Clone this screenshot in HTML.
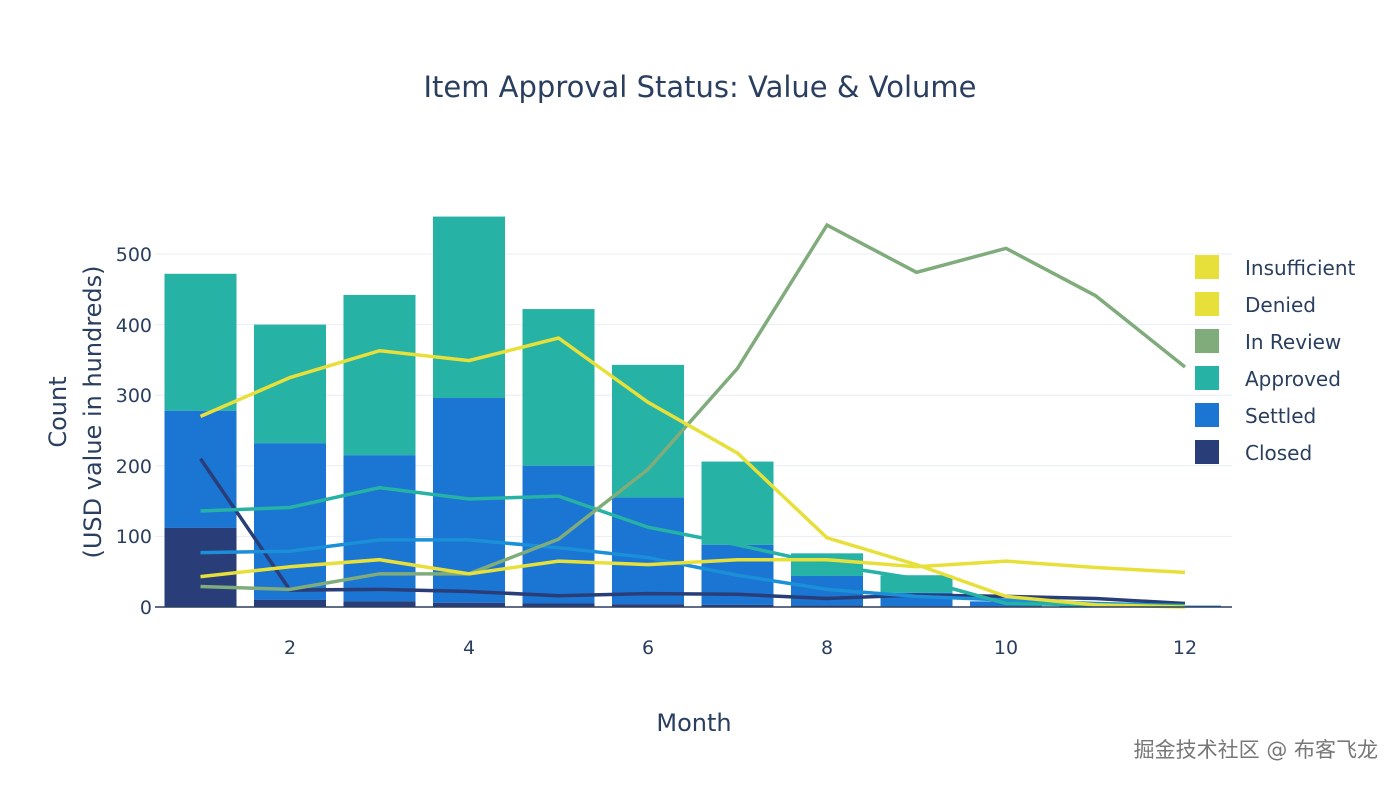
<!DOCTYPE html>
<html><head><meta charset="utf-8"><style>
body{margin:0;background:#fff;width:1400px;height:786px;overflow:hidden;font-family:"DejaVu Sans","Noto Sans CJK SC",sans-serif;}
</style></head><body>
<svg width="1400" height="786" xmlns="http://www.w3.org/2000/svg" font-family="DejaVu Sans, Noto Sans CJK SC, sans-serif">
<text x="700" y="97" text-anchor="middle" font-size="29" fill="#2a3f5f">Item Approval Status: Value &amp; Volume</text>
<g stroke="#e8eef4" stroke-width="1">
<line x1="155" x2="1232" y1="536.4" y2="536.4"/><line x1="155" x2="1232" y1="465.8" y2="465.8"/>
<line x1="155" x2="1232" y1="395.2" y2="395.2"/><line x1="155" x2="1232" y1="324.6" y2="324.6"/>
<line x1="155" x2="1232" y1="254" y2="254"/>
</g>
<g font-size="19" fill="#2a3f5f" text-anchor="end">
<text x="152" y="614">0</text><text x="152" y="543">100</text><text x="152" y="473">200</text>
<text x="152" y="402">300</text><text x="152" y="332">400</text><text x="152" y="261">500</text>
</g>
<g font-size="19" fill="#2a3f5f" text-anchor="middle">
<text x="290" y="654">2</text><text x="469" y="654">4</text><text x="648" y="654">6</text>
<text x="827" y="654">8</text><text x="1006" y="654">10</text><text x="1185" y="654">12</text>
<text x="694" y="731" font-size="24">Month</text>
</g>
<text transform="translate(66,412) rotate(-90)" font-size="24" fill="#2a3f5f" text-anchor="middle">Count</text>
<text transform="translate(101,412) rotate(-90)" font-size="24" fill="#2a3f5f" text-anchor="middle">(USD value in hundreds)</text>
<g id="bars"></g>
<g id="lines" fill="none" stroke-width="3.5"></g>
<line x1="155" x2="1232" y1="607" y2="607" stroke="#2a3f5f" stroke-width="1.5"/>
<g font-size="20" fill="#2a3f5f">
<rect x="1195" y="255" width="24" height="24" fill="#e8e03a"/><text x="1245" y="275">Insufficient</text>
<rect x="1195" y="292" width="24" height="24" fill="#e8e03a"/><text x="1245" y="312">Denied</text>
<rect x="1195" y="329" width="24" height="24" fill="#80ac7c"/><text x="1245" y="349">In Review</text>
<rect x="1195" y="366" width="24" height="24" fill="#26b2a4"/><text x="1245" y="386">Approved</text>
<rect x="1195" y="403" width="24" height="24" fill="#1b75d3"/><text x="1245" y="423">Settled</text>
<rect x="1195" y="440" width="24" height="24" fill="#293d78"/><text x="1245" y="460">Closed</text>
</g>
<text x="1378" y="757" text-anchor="end" font-size="21" fill="#777">掘金技术社区 @ 布客飞龙</text>
</svg>
<script>
const X=m=>200.5+(m-1)*89.5, Y=v=>607-v*0.706;
const closed=[112,10,8,6,5,4,3,2,1,1,0,0],settled=[278,232,215,296,200,155,88,44,20,8,2,2],total=[472,400,442,553,422,343,206,76,45,8,2,2];
let b='';
for(let i=0;i<12;i++){const x=X(i+1)-36;
b+=`<rect x="${x}" y="${Y(total[i])}" width="72" height="${(total[i]-settled[i])*0.706}" fill="#26b2a4"/>`;
b+=`<rect x="${x}" y="${Y(settled[i])}" width="72" height="${(settled[i]-closed[i])*0.706}" fill="#1b75d3"/>`;
b+=`<rect x="${x}" y="${Y(closed[i])}" width="72" height="${closed[i]*0.706}" fill="#293d78"/>`;}
document.getElementById('bars').innerHTML=b;
const L=[["#293d78",[210,24,25,22,16,19,18,12,17,15,12,5]],["#1b8fd8",[77,79,95,95,84,70,45,25,15,10,5,2]],["#26b2a4",[136,141,169,153,157,113,88,60,40,5,3,2]],["#80ac7c",[29,25,47,47,96,195,338,541,474,508,441,340]],["#e8e03a",[43,57,67,47,65,60,67,67,57,65,56,49]],["#e8e03a",[270,325,363,349,381,290,218,98,60,15,3,0]]];
let l='';for(const [c,d] of L){l+=`<polyline stroke="${c}" points="${d.map((v,i)=>X(i+1)+','+Y(v)).join(' ')}"/>`;}
document.getElementById('lines').innerHTML=l;
</script>
</body></html>
